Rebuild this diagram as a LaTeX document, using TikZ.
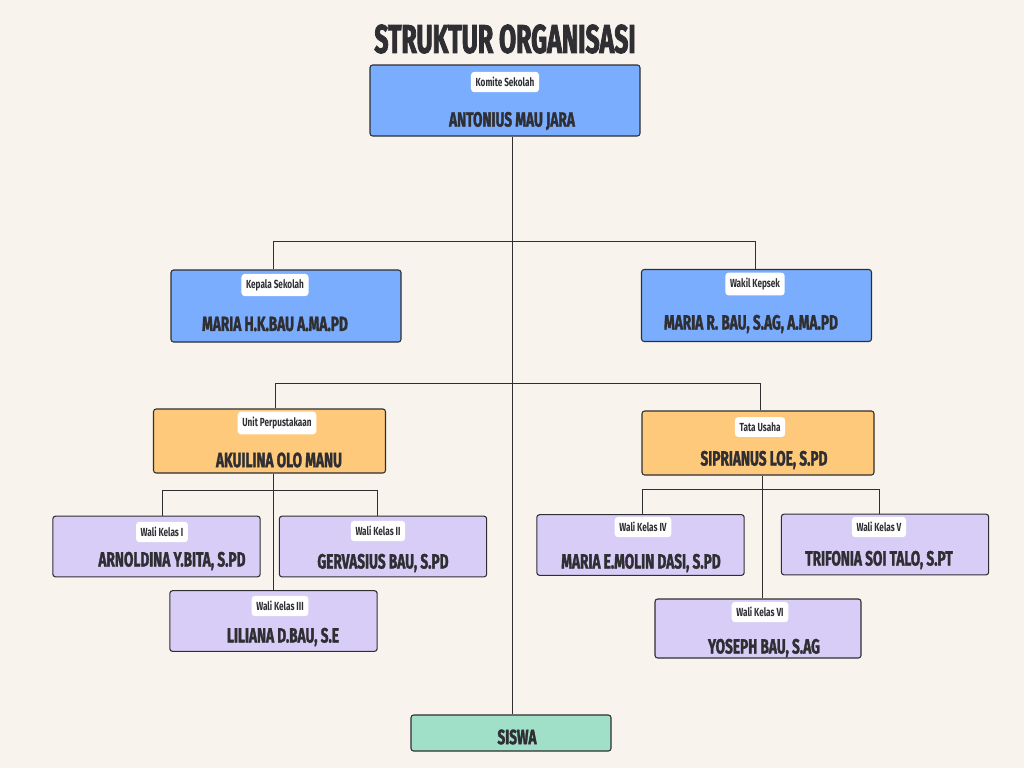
\documentclass[tikz,border=0pt]{standalone}
\usepackage{fontspec}
\newfontfamily\namafont{Fira Sans}[FakeStretch=0.7]
\newfontfamily\tebalfont{Fira Sans}[FakeStretch=0.66, FakeBold=1.5]
\newfontfamily\judulfont{Fira Sans}[FakeStretch=0.62, FakeBold=2]
\usetikzlibrary{positioning}
\definecolor{latar}{HTML}{F8F3EC}
\definecolor{biru}{HTML}{7BADFF}
\definecolor{jingga}{HTML}{FFC97B}
\definecolor{ungu}{HTML}{D8CDF6}
\definecolor{hijau}{HTML}{A0E0C8}
\definecolor{garis}{HTML}{2E2E33}

\tikzset{
  orgbox/.style={draw=garis, line width=0.8pt, rounded corners=2pt, inner sep=0pt},
  bigbox/.style={orgbox, fill=biru, minimum width=172.5pt, minimum height=54pt},
  midbox/.style={orgbox, fill=jingga, minimum width=174pt, minimum height=48pt},
  walibox/.style={orgbox, fill=ungu, minimum width=155.5pt, minimum height=45.5pt},
  tag/.style={fill=white, rounded corners=2.5pt, inner xsep=3.5pt, inner ysep=4pt,
    font=\namafont\bfseries\fontsize{8.8}{10}\selectfont, text=garis},
  nama/.style={font=\tebalfont\bfseries\fontsize{15.5}{17}\selectfont, text=garis, inner sep=0pt},
  link/.style={draw=garis, line width=0.75pt}
}

\begin{document}
\begin{tikzpicture}[x=0.75pt, y=-0.75pt]
  \fill[latar] (0,0) rectangle (1024,768);
  \useasboundingbox (0,0) rectangle (1024,768);

  % Judul
  \node[font=\judulfont\bfseries\fontsize{30}{33}\selectfont, text=garis] (judul) at (505,39) {STRUKTUR ORGANISASI};

  % Komite
  \node[bigbox, minimum width=202.5pt, minimum height=53.25pt] (komite) at (505,100.5) {};
  \node[tag] (tKomite) at (505,82) {Komite Sekolah};
  \node[nama] (nKomite) at (512,121) {ANTONIUS MAU JARA};

  % Kepala & wakil
  \node[bigbox] (kepala) at (286,306) {};
  \node[tag] (tKepala) at (275,285) {Kepala Sekolah};
  \node[nama] (nKepala) at (275,324) {MARIA H.K.BAU A.MA.PD};

  \node[bigbox] (wakil) at (756.5,305.5) {};
  \node[tag] (tWakil) at (755,284) {Wakil Kepsek};
  \node[nama] (nWakil) at (751,324) {MARIA R. BAU, S.AG, A.MA.PD};

  % Unit & tata usaha
  \node[midbox] (unit) at (269.5,441) {};
  \node[tag] (tUnit) at (277,423) {Unit Perpustakaan};
  \node[nama] (nUnit) at (279,460) {AKUILINA OLO MANU};

  \node[midbox] (tata) at (758,443) {};
  \node[tag] (tTata) at (760,427) {Tata Usaha};
  \node[nama] (nTata) at (764,460) {SIPRIANUS LOE, S.PD};

  % Wali kelas
  \node[walibox] (w1) at (156.5,546.5) {};
  \node[tag] (tW1) at (162,532) {Wali Kelas I};
  \node[nama] (nW1) at (172,561) {ARNOLDINA Y.BITA, S.PD};

  \node[walibox] (w2) at (383,546.5) {};
  \node[tag] (tW2) at (378,531) {Wali Kelas II};
  \node[nama] (nW2) at (383,563) {GERVASIUS BAU, S.PD};

  \node[walibox] (w3) at (273.5,621) {};
  \node[tag] (tW3) at (280,606) {Wali Kelas III};
  \node[nama] (nW3) at (283,637) {LILIANA D.BAU, S.E};

  \node[walibox] (w4) at (640.5,545) {};
  \node[tag] (tW4) at (643,527) {Wali Kelas IV};
  \node[nama] (nW4) at (641,563) {MARIA E.MOLIN DASI, S.PD};

  \node[walibox] (w5) at (885,544.5) {};
  \node[tag] (tW5) at (879,527) {Wali Kelas V};
  \node[nama] (nW5) at (879,560) {TRIFONIA SOI TALO, S.PT};

  \node[walibox, minimum width=154.5pt, minimum height=44.25pt] (w6) at (758,628.5) {};
  \node[tag] (tW6) at (760,612) {Wali Kelas VI};
  \node[nama] (nW6) at (764,648) {YOSEPH BAU, S.AG};

  % Siswa
  \node[orgbox, fill=hijau, minimum width=150pt, minimum height=27pt] (siswa) at (511,733) {};
  \node[nama] (nSiswa) at (517,737) {SISWA};

  % Garis penghubung
  \coordinate (busA1) at (273,241);
  \coordinate (busA2) at (755,241);
  \coordinate (busB1) at (275,383);
  \coordinate (busB2) at (760,383);
  \coordinate (busC1) at (162,490);
  \coordinate (busC2) at (377,490);
  \coordinate (busD1) at (642,489);
  \coordinate (busD2) at (879,489);
  \coordinate (pusat) at (512,0);
  \coordinate (kiri) at (273,0);
  \coordinate (kanan) at (762,0);

  \draw[link] (pusat |- komite.south) -- (pusat |- siswa.north);
  \draw[link] (busA1 |- kepala.north) -- (busA1) -- (busA2) -- (busA2 |- wakil.north);
  \draw[link] (busB1 |- unit.north) -- (busB1) -- (busB2) -- (busB2 |- tata.north);
  \draw[link] (kiri |- unit.south) -- (kiri |- w3.north);
  \draw[link] (busC1 |- w1.north) -- (busC1) -- (busC2) -- (busC2 |- w2.north);
  \draw[link] (kanan |- tata.south) -- (kanan |- w6.north);
  \draw[link] (busD1 |- w4.north) -- (busD1) -- (busD2) -- (busD2 |- w5.north);
\end{tikzpicture}
\end{document}
